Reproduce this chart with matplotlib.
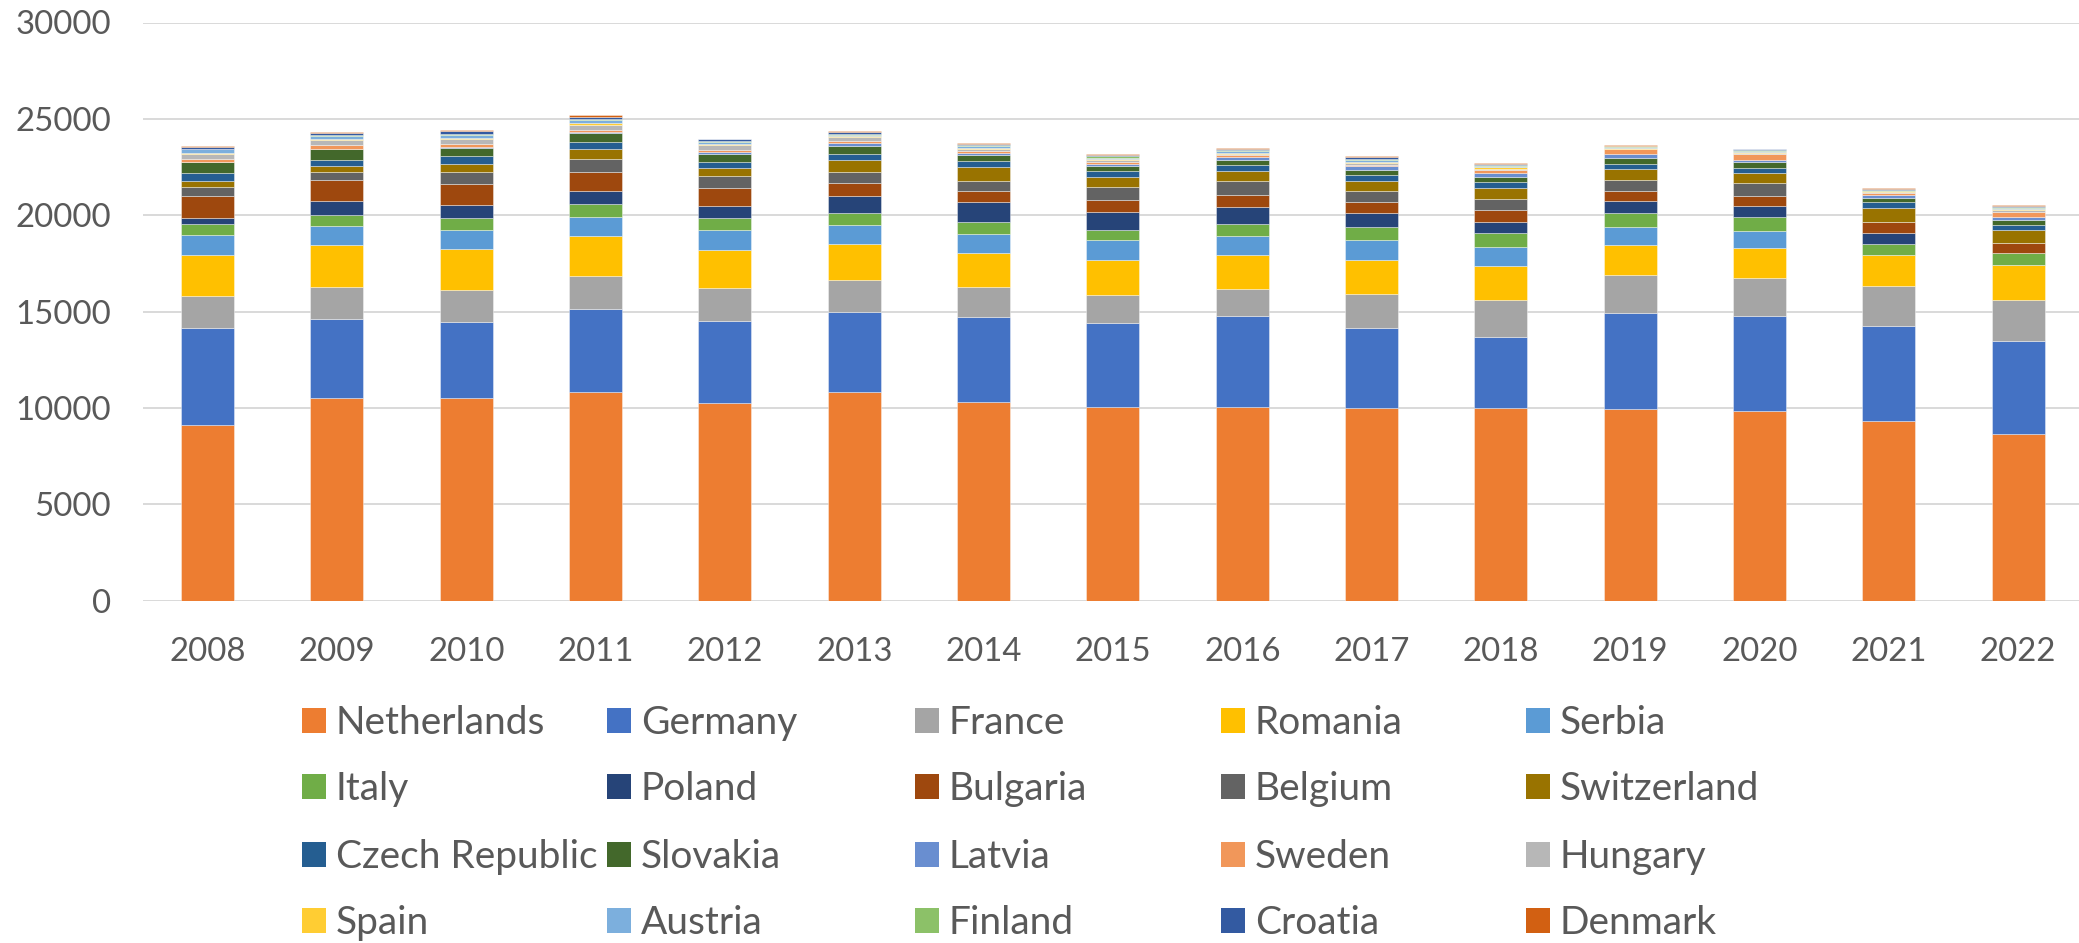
import matplotlib
matplotlib.use("Agg")
import matplotlib.pyplot as plt
from matplotlib.patches import Patch
import numpy as np

years = ["2008", "2009", "2010", "2011", "2012", "2013", "2014", "2015",
         "2016", "2017", "2018", "2019", "2020", "2021", "2022"]

countries = ["Netherlands", "Germany", "France", "Romania", "Serbia",
             "Italy", "Poland", "Bulgaria", "Belgium", "Switzerland",
             "Czech Republic", "Slovakia", "Latvia", "Sweden", "Hungary",
             "Spain", "Austria", "Finland", "Croatia", "Denmark"]

netherlands = [9130, 10520, 10500, 10800, 10260, 10830, 10300, 10070, 10070, 9970, 9970, 9950, 9840, 9340, 8650]
germany     = [5020, 4100, 3940, 4320, 4240, 4150, 4410, 4320, 4690, 4180, 3720, 4970, 4930, 4910, 4840]
france      = [1670, 1670, 1680, 1740, 1740, 1650, 1580, 1490, 1420, 1740, 1910, 1960, 1960, 2080, 2100]
romania     = [2140, 2140, 2140, 2080, 1980, 1860, 1740, 1790, 1740, 1790, 1750, 1580, 1560, 1580, 1810]
serbia      = [990, 1010, 990, 990, 1010, 990, 990, 1020, 990, 1010, 1020, 920, 900, 0, 0]
italy       = [610, 570, 620, 660, 640, 630, 610, 560, 630, 680, 710, 750, 700, 590, 640]
poland      = [300, 730, 680, 660, 630, 870, 1040, 940, 890, 730, 590, 590, 570, 570, 0]
bulgaria    = [1130, 1090, 1060, 990, 900, 700, 570, 590, 610, 570, 590, 540, 560, 590, 540]
belgium     = [470, 400, 610, 680, 630, 570, 520, 680, 710, 570, 560, 560, 630, 0, 0]
switzerland = [300, 300, 430, 540, 420, 630, 730, 520, 540, 520, 590, 560, 520, 730, 630]
czech       = [430, 350, 400, 360, 330, 310, 310, 310, 300, 310, 300, 300, 280, 280, 280]
slovakia    = [570, 540, 450, 420, 380, 400, 310, 260, 280, 260, 260, 300, 300, 240, 280]
latvia      = [20, 35, 35, 100, 100, 140, 100, 120, 140, 210, 230, 170, 120, 160, 140]
sweden      = [120, 170, 140, 100, 100, 100, 100, 90, 90, 90, 140, 260, 280, 70, 280]
hungary     = [270, 280, 280, 260, 280, 210, 100, 90, 70, 70, 70, 40, 70, 50, 70]
spain       = [40, 70, 50, 70, 70, 70, 70, 70, 70, 70, 70, 40, 50, 50, 50]
austria     = [200, 120, 170, 160, 100, 70, 90, 70, 70, 70, 50, 40, 50, 40, 50]
finland     = [30, 50, 40, 50, 50, 50, 50, 70, 70, 90, 70, 40, 50, 40, 50]
croatia     = [120, 120, 140, 140, 70, 70, 70, 70, 50, 70, 50, 40, 40, 50, 50]
denmark     = [40, 70, 70, 70, 50, 70, 70, 50, 50, 50, 50, 40, 50, 40, 50]

series = [netherlands, germany, france, romania, serbia, italy, poland, bulgaria,
          belgium, switzerland, czech, slovakia, latvia, sweden, hungary, spain,
          austria, finland, croatia, denmark]

colors = ["#ED7D31", "#4472C4", "#A5A5A5", "#FFC000", "#5B9BD5",
          "#70AD47", "#264478", "#9E480E", "#636363", "#997300",
          "#255E91", "#43682B", "#698ED0", "#F1975A", "#B7B7B7",
          "#FFCD33", "#7CAFDD", "#8CC168", "#335AA1", "#D26012"]

W, H = 2079, 943
DPI = 100
plt.rcParams['font.family'] = ['Lato', 'DejaVu Sans']
TXT = "#595959"
FS = 23.8
LFS = 28

fig = plt.figure(figsize=(W / DPI, H / DPI), dpi=DPI)
ax = fig.add_axes([143 / W, 1 - 600.6 / H, 1 - 143 / W, (600.6 - 22.5) / H])

x = np.arange(len(years))
bottom = np.zeros(len(years))
for vals, col in zip(series, colors):
    v = np.array(vals, dtype=float)
    ax.bar(x, v, width=0.41, bottom=bottom, color=col,
           edgecolor=(1, 1, 1, 0.45), linewidth=0.6, zorder=3)
    bottom += v

ax.set_xlim(-0.5, 14.47)
ax.set_ylim(0, 30000)
ax.set_yticks(np.arange(0, 30001, 5000))
ax.set_xticks(x)
ax.set_xticklabels(years)
ax.grid(axis='y', color="#D9D9D9", linewidth=1.4, zorder=0)
ax.set_axisbelow(True)
for s in ax.spines.values():
    s.set_visible(False)
ax.tick_params(axis='both', length=0, labelsize=FS, labelcolor=TXT)
ax.tick_params(axis='y', pad=23)
ax.tick_params(axis='x', pad=26)

# legend: row-major layout, one legend per entry for exact placement
col_x = [302, 607, 915, 1221, 1526]
row_y = [723, 789, 857, 923]
for i, (name, col) in enumerate(zip(countries, colors)):
    r, c = divmod(i, 5)
    fig.legend(handles=[Patch(facecolor=col, edgecolor='none')], labels=[name],
               loc='center left',
               bbox_to_anchor=(col_x[c] / W, 1 - row_y[r] / H),
               bbox_transform=fig.transFigure, frameon=False,
               borderpad=0, borderaxespad=0, handlelength=0.62,
               handleheight=0.62, handletextpad=0.25, fontsize=LFS,
               labelcolor=TXT)

fig.savefig("out.png", dpi=DPI)
